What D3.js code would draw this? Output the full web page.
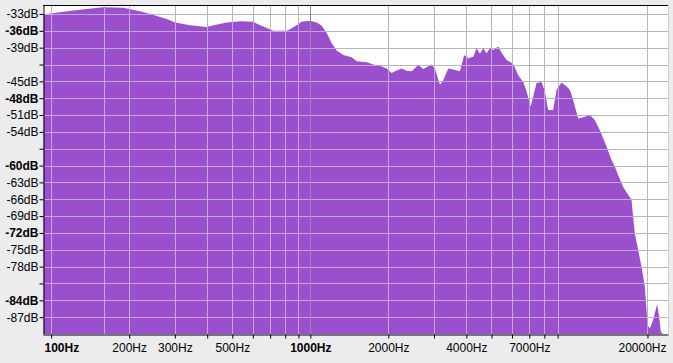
<!DOCTYPE html>
<html>
<head>
<meta charset="utf-8">
<script src="https://cdn.jsdelivr.net/npm/d3@7"></script>
<style>
  body { margin: 0; background: #ececec; }
  svg { display: block; font-family: "DejaVu Sans", sans-serif; }
</style>
</head>
<body>
<div id="chart"></div>
<script>
var width = 673,
    height = 363;

// spectrum (Hz, dB)
var freqs = [93.4, 108, 122, 137, 159, 190, 220, 241, 279, 301, 344, 399, 423, 476, 536, 603,
  640, 699, 720, 811, 835, 886, 926, 997, 1059, 1107, 1157, 1209, 1264, 1341, 1444, 1510,
  1650, 1750, 1857, 1971, 2060, 2122, 2252, 2354, 2461, 2610, 2729, 2939, 3027, 3164, 3258,
  3406, 3560, 3778, 3925, 4067, 4252, 4382, 4512, 4647, 4789, 4932, 5079, 5309, 5472, 5720,
  6067, 6343, 6631, 6834, 7079, 7244, 7466, 7806, 8037, 8276, 8651, 8917, 9322, 9745, 10035,
  10335, 10802, 11293, 11990, 12529, 13098, 13902, 14533, 14965, 15409, 16111, 16843, 17359,
  17605, 17874, 18405, 18968, 19535, 19830, 20008, 20422, 21029, 21792, 22182, 22517, 22924, 24000];
var levels = [-33.1, -32.7, -32.4, -32.1, -31.8, -31.9, -32.5, -33.0, -33.9, -34.5, -35.0, -35.3, -35.0, -34.5, -34.3, -34.4,
  -35.0, -35.7, -36.0, -36.0, -35.7, -35.0, -34.4, -34.2, -34.5, -35.1, -36.4, -38.2, -39.5, -40.3, -40.7, -41.4,
  -41.6, -42.0, -42.2, -42.7, -43.5, -43.2, -42.7, -43.1, -43.2, -42.1, -42.8, -42.0, -42.8, -45.6, -44.8,
  -42.7, -42.9, -43.2, -40.3, -40.9, -40.6, -39.1, -40.1, -39.1, -40.0, -39.1, -39.4, -38.8, -39.9, -41.2,
  -41.9, -43.9, -45.1, -46.8, -49.5, -47.7, -45.3, -45.1, -46.8, -50.1, -50.1, -46.5, -45.2, -45.9, -46.5,
  -48.3, -51.6, -51.4, -51.0, -51.9, -53.7, -56.6, -59.0, -60.2, -61.7, -63.8, -65.2, -66.1,
  -69.1, -72.1, -75.0, -78.0, -81.6, -85.7, -88.4, -89.0, -87.5, -84.7, -86.9, -89.6, -100, -100];

var yTicks = [-33, -36, -39, -42, -45, -48, -51, -54, -57, -60, -63, -66, -69, -72, -75, -78, -81, -84, -87];
var yLabels = ["-33dB", "-36dB", "-39dB", "", "-45dB", "-48dB", "-51dB", "-54dB", "", "-60dB", "-63dB",
  "-66dB", "-69dB", "-72dB", "-75dB", "-78dB", "", "-84dB", "-87dB"];
var yBold = [-36, -48, -60, -72, -84];

var xTicks = [100, 200, 300, 400, 500, 600, 700, 800, 900, 1000, 2000, 3000, 4000, 5000, 6000, 7000, 8000, 9000, 20000];
var xLabels = {100: "100Hz", 200: "200Hz", 300: "300Hz", 500: "500Hz", 1000: "1000Hz",
  2000: "2000Hz", 4000: "4000Hz", 7000: "7000Hz", 20000: "20000Hz"};
var xBold = [100, 1000];
var xGrid = [100, 160].concat(xTicks.slice(1));

var plotL = 43, plotR = 668, plotT = 5, plotB = 334;

var x = d3.scaleLog().domain([93, 24000]).range([plotL, plotR]);
var y = d3.scaleLinear().domain([-90, -31.4]).range([plotB, plotT]).clamp(true);

var svg = d3.select("#chart").append("svg")
    .attr("width", width)
    .attr("height", height);

svg.append("rect")
    .attr("x", plotL).attr("y", plotT)
    .attr("width", plotR - plotL).attr("height", plotB - plotT)
    .attr("fill", "#fff");

var data = freqs.map((f, i) => ({f: f, db: levels[i]}));

var area = d3.area()
    .x(d => x(d.f))
    .y0(plotB)
    .y1(d => y(d.db));

function drawGrid(g, minor, major) {
  g.selectAll(".hg").data(yTicks).enter().append("line")
      .attr("x1", plotL).attr("x2", plotR)
      .attr("y1", d => Math.round(y(d)) + 0.5).attr("y2", d => Math.round(y(d)) + 0.5)
      .attr("stroke", minor);
  g.selectAll(".vg").data(xGrid).enter().append("line")
      .attr("y1", plotT).attr("y2", plotB)
      .attr("x1", d => Math.round(x(d)) + 0.5).attr("x2", d => Math.round(x(d)) + 0.5)
      .attr("stroke", d => d == 1000 ? major : minor);
}

// grid on white
drawGrid(svg.append("g"), "#b8b8b8", "#8a8a8a");

svg.append("defs").append("clipPath").attr("id", "spec")
  .append("path").datum(data).attr("d", area);

svg.append("path")
    .datum(data)
    .attr("d", area)
    .attr("fill", "#9a50cc");

// grid over the purple fill
drawGrid(svg.append("g").attr("clip-path", "url(#spec)"), "#c6a4de", "#a083b4");

// frame
svg.append("line").attr("x1", plotL).attr("x2", plotR).attr("y1", plotT + 0.5).attr("y2", plotT + 0.5).attr("stroke", "#000");
svg.append("line").attr("x1", plotR + 0.5).attr("x2", plotR + 0.5).attr("y1", plotT).attr("y2", plotB).attr("stroke", "#cfcfcf");

var yAxis = svg.append("g")
    .attr("transform", "translate(" + (plotL + 0.5) + ",0)")
    .call(d3.axisLeft(y).tickValues(yTicks).tickSize(4).tickPadding(1).tickSizeOuter(0)
      .tickFormat((d, i) => yLabels[i]));
yAxis.selectAll("text")
    .attr("fill", "#000")
    .style("font-size", "12px")
    .style("font-weight", d => yBold.includes(d) ? "bold" : "normal");

var xAxis = svg.append("g")
    .attr("transform", "translate(0," + (plotB + 0.5) + ")")
    .call(d3.axisBottom(x).tickValues(xTicks).tickSize(4).tickPadding(4.5).tickSizeOuter(0)
      .tickFormat(d => xLabels[d] || ""));
xAxis.selectAll("text")
    .attr("fill", "#000")
    .style("font-size", "12px")
    .style("font-weight", d => xBold.includes(d) ? "bold" : "normal")
    .each(function(d) {
      var w = this.getComputedTextLength(), cx = x(d);
      if (cx - w / 2 < plotL + 1) d3.select(this).attr("x", plotL + 1 + w / 2 - cx);
      if (cx + w / 2 > plotR - 2) d3.select(this).attr("x", plotR - 2 - w / 2 - cx);
    });
svg.selectAll(".domain, .tick line").attr("stroke", "#000");
</script>
</body>
</html>
